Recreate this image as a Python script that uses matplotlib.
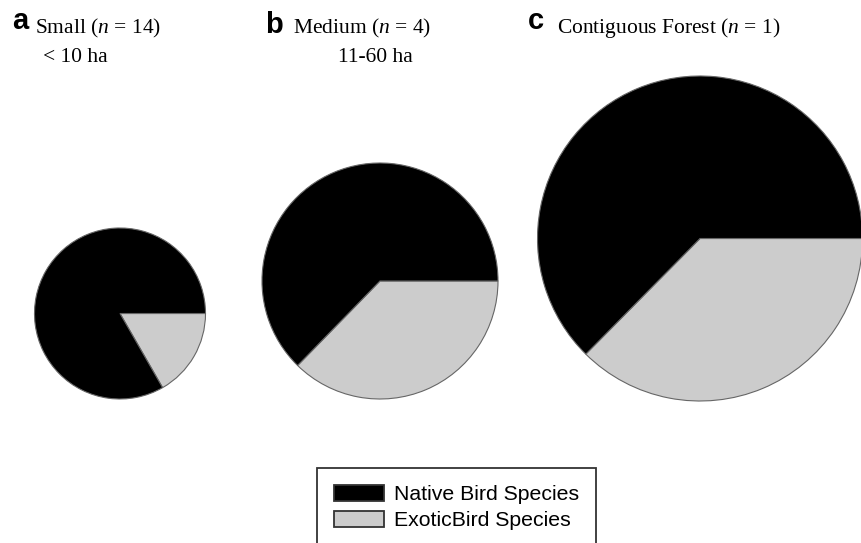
import matplotlib.pyplot as plt

# data
panel_letters = ["a", "b", "c"]
site_names = ["Small", "Medium", "Contiguous Forest"]
site_n = [14, 4, 1]
site_area = ["< 10 ha", "11-60 ha", ""]
native_pct = [83.3, 62.7, 62.6]
exotic_pct = [16.7, 37.3, 37.4]
legend_labels = ["Native Bird Species", "ExoticBird Species"]

W, H = 861, 543

# layout in pixels (x from left, y from top)
pie_centers = [(120, 313.5), (380, 281), (700, 238.5)]
pie_radii = [85.5, 118, 162.5]
letter_pos = [(12, 29), (265, 33), (528, 29)]
name_pos = [(35, 33), (293, 33), (557, 33)]
area_pos = [(43, 62), (338, 62), (0, 0)]

plt.rcParams["mathtext.fontset"] = "custom"
plt.rcParams["mathtext.rm"] = "Liberation Serif"
plt.rcParams["mathtext.it"] = "Liberation Serif:italic"

fig = plt.figure(figsize=(W / 100, H / 100), dpi=100)
ax = fig.add_axes([0, 0, 1, 1])

wedges = None
for i in range(3):
    cx, cy = pie_centers[i]
    wedges, _ = ax.pie(
        [exotic_pct[i], native_pct[i]],
        colors=["#cccccc", "black"],
        startangle=0,
        counterclock=False,
        center=(cx, H - cy),
        radius=pie_radii[i],
        wedgeprops={"edgecolor": "#666666", "linewidth": 0.8},
    )

ax.set_xlim(0, W)
ax.set_ylim(0, H)
ax.set_aspect("equal")
ax.axis("off")

for i in range(3):
    lx, ly = letter_pos[i]
    ax.text(lx, H - ly, panel_letters[i], fontsize=21, fontweight="bold",
            family="Liberation Sans", va="baseline", ha="left")
    nx, ny = name_pos[i]
    ax.text(nx, H - ny, site_names[i] + " ($\\it{n}$ = " + str(site_n[i]) + ")",
            fontsize=15.5, family="Liberation Serif", va="baseline", ha="left")
    if site_area[i]:
        axx, ayy = area_pos[i]
        ax.text(axx, H - ayy, site_area[i], fontsize=15.5,
                family="Liberation Serif", va="baseline", ha="left")

leg = ax.legend(
    [wedges[1], wedges[0]],
    legend_labels,
    loc="upper left",
    bbox_to_anchor=(317 / W, 1 - 468 / H),
    bbox_transform=fig.transFigure,
    borderaxespad=0,
    fancybox=False,
    prop={"family": "Liberation Sans", "size": 15.3},
    handlelength=2.35,
    handleheight=0.75,
    handletextpad=0.47,
    labelspacing=0.32,
    borderpad=0.8,
)
leg.get_frame().set_edgecolor("black")
leg.get_frame().set_linewidth(1.3)
for h in leg.legend_handles:
    h.set_edgecolor("#333333")
    h.set_linewidth(1.3)

fig.savefig("out.png", dpi=100)
